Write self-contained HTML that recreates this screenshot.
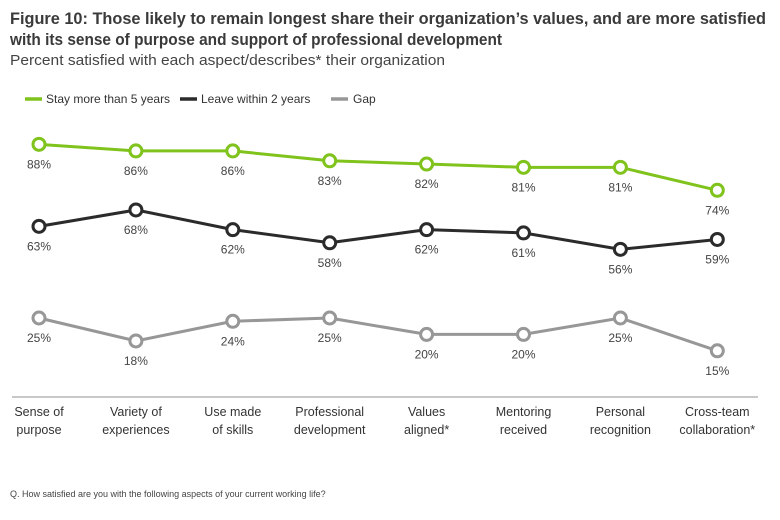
<!DOCTYPE html>
<html><head><meta charset="utf-8"><style>
body{margin:0;background:#fff;width:780px;height:515px;overflow:hidden;font-family:"Liberation Sans",sans-serif;}
</style></head><body>
<svg width="780" height="515" viewBox="0 0 780 515" xmlns="http://www.w3.org/2000/svg">
<text x="10" y="24" font-size="16.5" font-weight="bold" fill="#3a3a3a" textLength="756" lengthAdjust="spacingAndGlyphs">Figure 10: Those likely to remain longest share their organization’s values, and are more satisfied</text>
<text x="10" y="45" font-size="16.5" font-weight="bold" fill="#3a3a3a" textLength="492" lengthAdjust="spacingAndGlyphs">with its sense of purpose and support of professional development</text>
<text x="10" y="65" font-size="15" fill="#444" textLength="435" lengthAdjust="spacingAndGlyphs">Percent satisfied with each aspect/describes* their organization</text>
<g font-size="12" fill="#333">
<line x1="25" y1="99" x2="42" y2="99" stroke="#7fc31c" stroke-width="3.5"/><text x="46" y="103">Stay more than 5 years</text>
<line x1="180" y1="99" x2="197" y2="99" stroke="#2b2b2b" stroke-width="3.5"/><text x="201" y="103">Leave within 2 years</text>
<line x1="331" y1="99" x2="348" y2="99" stroke="#979797" stroke-width="3.5"/><text x="353" y="103">Gap</text>
</g>
<line x1="12" y1="397" x2="758" y2="397" stroke="#c8c8c8" stroke-width="2"/>
<g id="plot"></g>
<text x="10" y="497" font-size="9" fill="#444">Q. How satisfied are you with the following aspects of your current working life?</text>
</svg>
<script>
const categories=[["Sense of","purpose"],["Variety of","experiences"],["Use made","of skills"],["Professional","development"],["Values","aligned*"],["Mentoring","received"],["Personal","recognition"],["Cross-team","collaboration*"]];
const stayValues=[88,86,86,83,82,81,81,74];
const leaveValues=[63,68,62,58,62,61,56,59];
const gapValues=[25,18,24,25,20,20,25,15];
const NS="http://www.w3.org/2000/svg";
const plot=document.getElementById('plot');
function x(i){return 39+i*96.9;}
function yMain(v){return 433-v*3.28;}
function yGap(v){return 400-v*3.28;}
function mk(t,a){const e=document.createElementNS(NS,t);for(const k in a)e.setAttribute(k,a[k]);return e;}
function series(vals,yf,color,name){
  const g=mk('g',{});
  
  
  const pts=vals.map((v,i)=>x(i)+','+yf(v)).join(' ');
  const pl=mk('polyline',{points:pts,fill:'none',stroke:color,'stroke-width':3});
  
  
  g.appendChild(pl);
  vals.forEach((v,i)=>{
    const c=mk('circle',{cx:x(i),cy:yf(v),r:6,fill:'#fff',stroke:color,'stroke-width':3});
    
    
    g.appendChild(c);
    const t=mk('text',{x:x(i),y:yf(v)+24,'text-anchor':'middle','font-size':12,fill:'#444'});
    t.textContent=v+'%';
    
    
    g.appendChild(t);
  });
  plot.appendChild(g);
}
series(stayValues,yMain,'#7fc31c','stay');
series(leaveValues,yMain,'#2b2b2b','leave');
series(gapValues,yGap,'#979797','gap');
categories.forEach((c,i)=>{
  c.forEach((line,j)=>{
    const t=mk('text',{x:x(i),y:416+j*18,'text-anchor':'middle','font-size':12.5,fill:'#333'});
    t.textContent=line;
    
    
    plot.appendChild(t);
  });
});
</script>
</body></html>
